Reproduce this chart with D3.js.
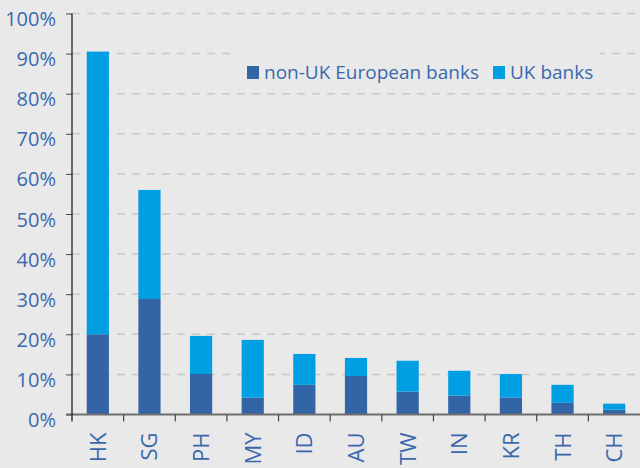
<!DOCTYPE html>
<html>
<head>
<meta charset="utf-8">
<script src="https://cdn.jsdelivr.net/npm/d3@7"></script>
<style>
  html, body { margin: 0; padding: 0; background: #e9e9e9; }
  svg { display: block; font-family: "Open Sans", sans-serif; }
</style>
</head>
<body>
<div id="chart"></div>
<script>
const countries = ["HK", "SG", "PH", "MY", "ID", "AU", "TW", "IN", "KR", "TH", "CH"];
const nonUkBanks = [20.0, 28.8, 10.1, 4.2, 7.4, 9.6, 5.7, 4.7, 4.2, 2.9, 1.2];
const ukBanks = [70.5, 27.2, 9.5, 14.4, 7.7, 4.5, 7.7, 6.2, 5.9, 4.5, 1.5];
const seriesNames = ["non-UK European banks", "UK banks"];
const yTicks = [0, 10, 20, 30, 40, 50, 60, 70, 80, 90, 100];

const width = 640;
const height = 468;
const plotLeft = 72, plotRight = 640, plotTop = 13.5, plotBottom = 414.5;

const darkBlue = "#3364a5";
const lightBlue = "#009fe3";
const textBlue = "#3a68ad";

const svg = d3.select("#chart")
  .append("svg")
  .attr("width", width)
  .attr("height", height);

svg.append("rect").attr("width", width).attr("height", height).attr("fill", "#e9e9e9");

const x = d3.scaleBand()
  .domain(countries)
  .range([plotLeft, plotRight])
  .paddingInner(0.57)
  .paddingOuter(0.285);

const y = d3.scaleLinear()
  .domain([0, 100])
  .range([plotBottom, plotTop]);

// gridlines
svg.append("g")
  .selectAll("line")
  .data(yTicks.filter(d => d > 0))
  .enter().append("line")
  .attr("x1", plotLeft)
  .attr("x2", plotRight)
  .attr("y1", d => y(d))
  .attr("y2", d => y(d))
  .attr("stroke", "#c8c8c8")
  .attr("stroke-width", 1.5)
  .attr("stroke-dasharray", "8,7");

// stacked bars
const rows = countries.map((c, i) => ({ country: c, nonUk: nonUkBanks[i], uk: ukBanks[i] }));
const stacked = d3.stack().keys(["nonUk", "uk"])(rows);
const colors = [darkBlue, lightBlue];

svg.append("g")
  .selectAll("g")
  .data(stacked)
  .enter().append("g")
  .attr("fill", (d, i) => colors[i])
  .selectAll("rect")
  .data(d => d)
  .enter().append("rect")
  .attr("x", d => x(d.data.country))
  .attr("width", x.bandwidth())
  .attr("y", d => y(d[1]))
  .attr("height", d => y(d[0]) - y(d[1]));

// y axis
const yAxis = d3.axisLeft(y)
  .tickValues(yTicks)
  .tickSize(6)
  .tickPadding(10)
  .tickFormat(d => d + "%");

const yg = svg.append("g")
  .attr("transform", `translate(${plotLeft},0)`)
  .call(yAxis);
yg.select(".domain").remove();
yg.selectAll(".tick line").attr("stroke", "#444");
yg.selectAll(".tick text")
  .attr("fill", textBlue)
  .attr("font-size", 20)
  .attr("font-family", "Open Sans, sans-serif")
  .attr("dy", "0.6em");

// x axis line and ticks
const step = x.step();
const boundaries = d3.range(1, countries.length).map(i => x(countries[i]) - step * x.paddingInner() / 2);

svg.append("line")
  .attr("x1", plotLeft - 6).attr("x2", plotRight)
  .attr("y1", plotBottom).attr("y2", plotBottom)
  .attr("stroke", "#6f6f6f")
  .attr("stroke-width", 2);

svg.append("g")
  .selectAll("line")
  .data(boundaries)
  .enter().append("line")
  .attr("x1", d => d).attr("x2", d => d)
  .attr("y1", plotBottom).attr("y2", plotBottom + 7)
  .attr("stroke", "#444")
  .attr("stroke-width", 1.2);

svg.append("line")
  .attr("x1", plotLeft).attr("x2", plotLeft)
  .attr("y1", plotTop).attr("y2", plotBottom + 7)
  .attr("stroke", "#111")
  .attr("stroke-width", 1.2);

// x labels
svg.append("g")
  .selectAll("text")
  .data(countries)
  .enter().append("text")
  .attr("transform", d => `translate(${x(d) + x.bandwidth() / 2 + 8},${plotBottom + 18}) rotate(-90)`)
  .attr("text-anchor", "end")
  .attr("fill", textBlue)
  .attr("font-size", 22)
  .text(d => d);

// legend
const legend = svg.append("g");
legend.append("rect")
  .attr("x", 230).attr("y", 50)
  .attr("width", 370).attr("height", 40)
  .attr("fill", "#e9e9e9");

const legendItems = [
  { name: seriesNames[0], color: darkBlue, x: 247 },
  { name: seriesNames[1], color: lightBlue, x: 493 }
];
const li = legend.selectAll(".item")
  .data(legendItems)
  .enter().append("g")
  .attr("transform", d => `translate(${d.x},66)`);
li.append("rect")
  .attr("width", 12).attr("height", 13)
  .attr("fill", d => d.color);
li.append("text")
  .attr("x", 17).attr("y", 13)
  .attr("fill", textBlue)
  .attr("font-size", 19)
  .text(d => d.name);
</script>
</body>
</html>
